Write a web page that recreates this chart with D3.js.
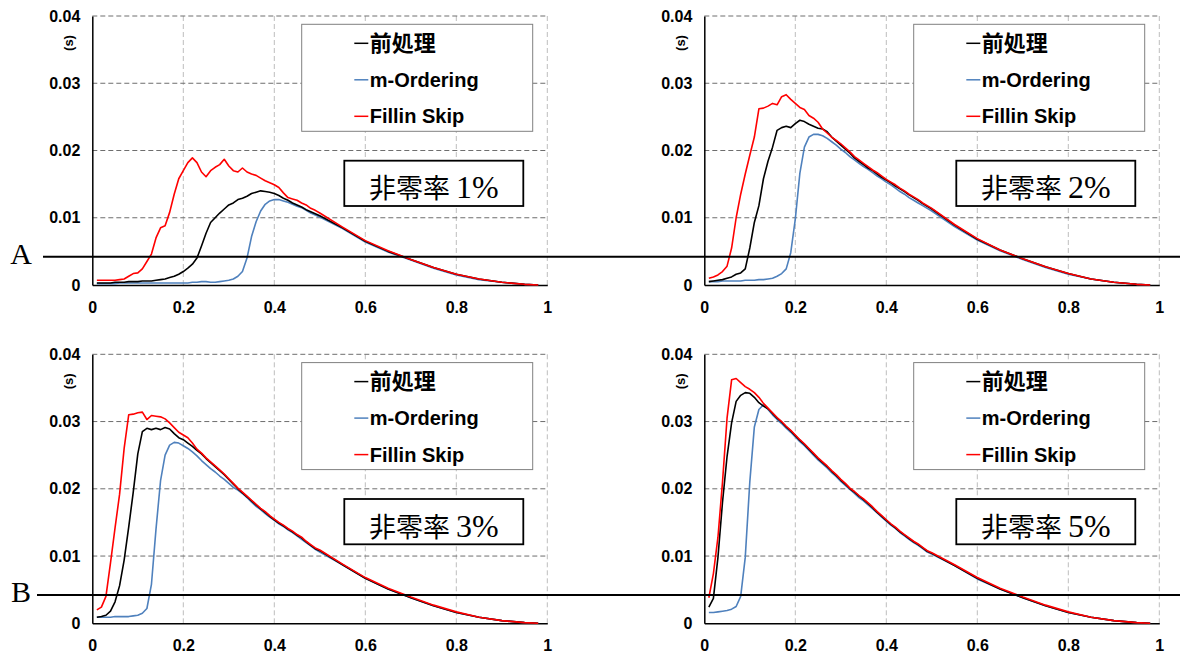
<!DOCTYPE html>
<html>
<head>
<meta charset="utf-8">
<script src="https://cdn.jsdelivr.net/npm/d3@7"></script>
<style>
  body { margin: 0; background: #fff; }
  .tick text { font-family: "Liberation Sans", Arial, sans-serif; font-weight: bold; font-size: 16px; fill: #000; }
</style>
</head>
<body>
<div id="chart"></div>
<script>
// x positions (fraction) shared by every series
const xs = [0.01,0.02,0.03,0.04,0.05,0.06,0.07,0.08,0.09,0.10,
  0.11,0.12,0.13,0.14,0.15,0.16,0.17,0.18,0.19,0.20,
  0.21,0.22,0.23,0.24,0.25,0.26,0.27,0.28,0.29,0.30,
  0.31,0.32,0.33,0.34,0.35,0.36,0.37,0.38,0.39,0.40,
  0.41,0.42,0.43,0.44,0.45,0.46,0.47,0.48,0.49,0.50,
  0.55,0.60,0.65,0.70,0.75,0.80,0.85,0.90,0.95,0.98];

const seriesNames = ["前処理", "m-Ordering", "Fillin Skip"];
const panelLabels = ["非零率 1%", "非零率 2%", "非零率 3%", "非零率 5%"];
const xTickValues = [0, 0.2, 0.4, 0.6, 0.8, 1];
const xTickLabels = ["0", "0.2", "0.4", "0.6", "0.8", "1"];
const yTickValues = [0, 0.01, 0.02, 0.03, 0.04];
const yTickLabels = ["0", "0.01", "0.02", "0.03", "0.04"];
const refLevel = 0.0042;
const refLetters = ["A", "B"];

// 1%
const pre1 = [0.0003,0.0003,0.0003,0.0003,0.0004,0.0004,0.0004,0.0005,0.0005,0.0005,
  0.0006,0.0006,0.0006,0.0007,0.0008,0.0009,0.0011,0.0013,0.0016,0.0020,
  0.0025,0.0031,0.0040,0.0058,0.0077,0.0093,0.0100,0.0107,0.0113,0.0119,
  0.0122,0.0127,0.0129,0.0132,0.0136,0.0138,0.0140,0.0139,0.0138,0.0136,
  0.0133,0.0129,0.0126,0.0122,0.0119,0.0116,0.0112,0.0109,0.0106,0.0103,
  0.0085,0.0065,0.0050,0.0038,0.0026,0.0016,0.0009,0.0004,0.0001,0.0000];
const mord1 = [0.0002,0.0002,0.0002,0.0002,0.0002,0.0003,0.0003,0.0003,0.0003,0.0003,
  0.0003,0.0003,0.0003,0.0003,0.0003,0.0003,0.0003,0.0003,0.0003,0.0003,
  0.0003,0.0004,0.0004,0.0005,0.0005,0.0004,0.0004,0.0005,0.0006,0.0007,
  0.0009,0.0013,0.0020,0.0040,0.0072,0.0094,0.0110,0.0120,0.0125,0.0127,
  0.0127,0.0125,0.0123,0.0120,0.0117,0.0115,0.0111,0.0107,0.0104,0.0101,
  0.0084,0.0064,0.0049,0.0037,0.0025,0.0015,0.0008,0.0004,0.0001,0.0000];
const skip1 = [0.0007,0.0007,0.0007,0.0007,0.0007,0.0008,0.0009,0.0013,0.0017,0.0018,
  0.0024,0.0035,0.0046,0.0070,0.0085,0.0088,0.0108,0.0135,0.0158,0.0170,
  0.0182,0.0189,0.0182,0.0168,0.0161,0.0170,0.0175,0.0179,0.0187,0.0177,
  0.0170,0.0168,0.0174,0.0168,0.0165,0.0163,0.0159,0.0155,0.0152,0.0149,
  0.0145,0.0137,0.0130,0.0128,0.0126,0.0122,0.0119,0.0114,0.0111,0.0107,
  0.0086,0.0066,0.0051,0.0038,0.0026,0.0016,0.0009,0.0004,0.0001,0.0000];

// 2%
const pre2 = [0.0005,0.0006,0.0007,0.0008,0.0010,0.0012,0.0016,0.0018,0.0024,0.0055,
  0.0093,0.0118,0.0158,0.0184,0.0205,0.0230,0.0234,0.0236,0.0234,0.0240,
  0.0245,0.0243,0.0239,0.0236,0.0233,0.0232,0.0228,0.0220,0.0214,0.0208,
  0.0202,0.0196,0.0189,0.0184,0.0179,0.0174,0.0170,0.0165,0.0160,0.0156,
  0.0152,0.0147,0.0143,0.0139,0.0134,0.0130,0.0126,0.0121,0.0117,0.0113,
  0.0089,0.0068,0.0052,0.0039,0.0027,0.0017,0.0009,0.0004,0.0001,0.0000];
const mord2 = [0.0005,0.0005,0.0005,0.0006,0.0006,0.0006,0.0006,0.0006,0.0007,0.0007,
  0.0007,0.0008,0.0008,0.0009,0.0010,0.0013,0.0017,0.0024,0.0048,0.0098,
  0.0166,0.0205,0.0220,0.0224,0.0224,0.0222,0.0218,0.0213,0.0208,0.0202,
  0.0197,0.0191,0.0186,0.0181,0.0176,0.0172,0.0167,0.0162,0.0158,0.0153,
  0.0149,0.0144,0.0139,0.0135,0.0130,0.0126,0.0122,0.0118,0.0114,0.0110,
  0.0087,0.0067,0.0051,0.0038,0.0026,0.0016,0.0009,0.0004,0.0001,0.0000];
const skip2 = [0.0010,0.0012,0.0015,0.0020,0.0028,0.0055,0.0100,0.0135,0.0165,0.0193,
  0.0220,0.0262,0.0263,0.0266,0.0270,0.0268,0.0280,0.0283,0.0276,0.0270,
  0.0264,0.0261,0.0252,0.0248,0.0242,0.0232,0.0226,0.0220,0.0215,0.0210,
  0.0204,0.0198,0.0191,0.0186,0.0181,0.0176,0.0171,0.0167,0.0162,0.0157,
  0.0153,0.0149,0.0144,0.0140,0.0135,0.0131,0.0127,0.0122,0.0118,0.0114,
  0.0090,0.0069,0.0052,0.0039,0.0027,0.0017,0.0009,0.0004,0.0001,0.0000];

// 3%
const pre3 = [0.0009,0.0010,0.0012,0.0018,0.0032,0.0056,0.0094,0.0143,0.0195,0.0252,
  0.0285,0.0290,0.0288,0.0290,0.0288,0.0291,0.0289,0.0282,0.0276,0.0273,
  0.0268,0.0263,0.0257,0.0252,0.0245,0.0239,0.0233,0.0227,0.0221,0.0214,
  0.0207,0.0200,0.0194,0.0188,0.0182,0.0176,0.0170,0.0165,0.0159,0.0154,
  0.0149,0.0145,0.0140,0.0136,0.0131,0.0127,0.0121,0.0116,0.0111,0.0108,
  0.0087,0.0067,0.0051,0.0038,0.0026,0.0016,0.0009,0.0004,0.0001,0.0000];
const mord3 = [0.0009,0.0009,0.0009,0.0009,0.0010,0.0010,0.0010,0.0010,0.0011,0.0012,
  0.0015,0.0022,0.0058,0.0140,0.0212,0.0250,0.0265,0.0269,0.0268,0.0264,
  0.0260,0.0255,0.0249,0.0242,0.0236,0.0230,0.0225,0.0219,0.0214,0.0208,
  0.0202,0.0198,0.0193,0.0187,0.0180,0.0174,0.0169,0.0163,0.0158,0.0153,
  0.0148,0.0144,0.0139,0.0135,0.0130,0.0125,0.0120,0.0115,0.0110,0.0106,
  0.0087,0.0067,0.0051,0.0038,0.0026,0.0016,0.0009,0.0004,0.0001,0.0000];
const skip3 = [0.0020,0.0024,0.0040,0.0090,0.0142,0.0192,0.0260,0.0310,0.0311,0.0313,
  0.0314,0.0303,0.0309,0.0308,0.0307,0.0304,0.0298,0.0291,0.0284,0.0280,
  0.0276,0.0268,0.0259,0.0253,0.0246,0.0240,0.0234,0.0228,0.0222,0.0215,
  0.0208,0.0201,0.0195,0.0189,0.0183,0.0177,0.0171,0.0166,0.0160,0.0155,
  0.0150,0.0146,0.0141,0.0137,0.0132,0.0128,0.0122,0.0117,0.0112,0.0109,
  0.0088,0.0068,0.0052,0.0039,0.0027,0.0017,0.0009,0.0004,0.0001,0.0000];

// 5%
const pre4 = [0.0024,0.0037,0.0098,0.0180,0.0248,0.0298,0.0330,0.0339,0.0343,0.0342,
  0.0336,0.0328,0.0323,0.0319,0.0312,0.0305,0.0299,0.0292,0.0286,0.0279,
  0.0272,0.0266,0.0259,0.0252,0.0245,0.0239,0.0233,0.0226,0.0220,0.0213,
  0.0207,0.0200,0.0195,0.0189,0.0184,0.0178,0.0172,0.0165,0.0159,0.0153,
  0.0147,0.0142,0.0136,0.0131,0.0126,0.0121,0.0117,0.0112,0.0107,0.0104,
  0.0086,0.0067,0.0051,0.0038,0.0026,0.0016,0.0009,0.0004,0.0001,0.0000];
const mord4 = [0.0016,0.0016,0.0017,0.0018,0.0019,0.0021,0.0025,0.0040,0.0098,0.0210,
  0.0292,0.0318,0.0325,0.0318,0.0310,0.0303,0.0297,0.0290,0.0284,0.0277,
  0.0270,0.0264,0.0257,0.0250,0.0243,0.0237,0.0231,0.0224,0.0218,0.0211,
  0.0205,0.0199,0.0193,0.0187,0.0182,0.0176,0.0170,0.0164,0.0158,0.0152,
  0.0146,0.0141,0.0135,0.0130,0.0125,0.0120,0.0116,0.0111,0.0106,0.0103,
  0.0086,0.0066,0.0051,0.0038,0.0026,0.0016,0.0009,0.0004,0.0001,0.0000];
const skip4 = [0.0038,0.0074,0.0128,0.0210,0.0305,0.0362,0.0364,0.0358,0.0352,0.0348,
  0.0343,0.0336,0.0327,0.0320,0.0313,0.0306,0.0300,0.0293,0.0287,0.0280,
  0.0273,0.0267,0.0260,0.0253,0.0246,0.0240,0.0234,0.0227,0.0221,0.0214,
  0.0208,0.0201,0.0196,0.0190,0.0185,0.0179,0.0173,0.0166,0.0160,0.0154,
  0.0148,0.0143,0.0137,0.0132,0.0127,0.0122,0.0118,0.0113,0.0108,0.0105,
  0.0087,0.0068,0.0052,0.0039,0.0027,0.0017,0.0009,0.0004,0.0001,0.0000];

const panelSeries = [
  [pre1, mord1, skip1],
  [pre2, mord2, skip2],
  [pre3, mord3, skip3],
  [pre4, mord4, skip4]
];
const colors = ["#000000", "#4f81bd", "#ff0000"];

const width = 1180;
const height = 657;
const plotW = 455;
const plotH = 269;
const lefts = [92.3, 704.3];
const tops = [16, 354.3];

const svg = d3.select("#chart").append("svg")
  .attr("width", width)
  .attr("height", height);

const panels = panelLabels.map((label, i) => {
  const left = lefts[i % 2];
  const top = tops[Math.floor(i / 2)];
  const x = d3.scaleLinear().domain([0, 1]).range([left, left + plotW]);
  const y = d3.scaleLinear().domain([0, 0.04]).range([top + plotH, top]);
  return { label, left, top, x, y, series: panelSeries[i] };
});

panels.forEach(p => {
  const g = svg.append("g");

  // gridlines
  g.selectAll(".vgrid")
    .data(xTickValues.filter(d => d > 0))
    .enter().append("line")
    .attr("x1", d => p.x(d)).attr("x2", d => p.x(d))
    .attr("y1", p.y(0)).attr("y2", p.y(0.04))
    .attr("stroke", "#bdbdbd")
    .attr("stroke-width", 1)
    .attr("stroke-dasharray", "5,3");

  g.selectAll(".hgrid")
    .data(yTickValues.filter(d => d > 0))
    .enter().append("line")
    .attr("x1", p.x(0)).attr("x2", p.x(1))
    .attr("y1", d => p.y(d)).attr("y2", d => p.y(d))
    .attr("stroke", "#6e6e6e")
    .attr("stroke-width", 1)
    .attr("stroke-dasharray", "5,3");

  // axes
  const yAxis = g.append("g")
    .attr("transform", `translate(${p.left},0)`)
    .call(d3.axisLeft(p.y).tickValues(yTickValues)
      .tickFormat((d, i) => yTickLabels[i])
      .tickSize(0).tickPadding(12));
  yAxis.select(".domain").attr("stroke", "#000").attr("stroke-width", 1.5);

  const xAxis = g.append("g")
    .attr("transform", `translate(0,${p.y(0)})`)
    .call(d3.axisBottom(p.x).tickValues(xTickValues)
      .tickFormat((d, i) => xTickLabels[i])
      .tickSize(0).tickPadding(16.5));
  xAxis.select(".domain").attr("stroke", "#000").attr("stroke-width", 1.5);

  // y axis title
  g.append("text")
    .attr("transform", `translate(${p.left - 24},${p.top + 27}) rotate(-90)`)
    .attr("text-anchor", "middle")
    .attr("dominant-baseline", "central")
    .style("font-family", "'Liberation Sans', Arial, sans-serif")
    .style("font-weight", "bold")
    .style("font-size", "13px")
    .text("(s)");

  // series lines: blue, black, red on top
  const line = d3.line()
    .x((d, i) => p.x(xs[i]))
    .y(d => p.y(d));
  [1, 0, 2].forEach(k => {
    g.append("path")
      .datum(p.series[k])
      .attr("d", line)
      .attr("fill", "none")
      .attr("stroke", colors[k])
      .attr("stroke-width", 1.6)
      .attr("stroke-linejoin", "round");
  });

  // legend
  const lg = g.append("g").attr("transform", `translate(${p.left + 209.4},${p.top + 8.3})`);
  lg.append("rect")
    .attr("width", 231).attr("height", 107)
    .attr("fill", "#fff")
    .attr("stroke", "#808080")
    .attr("stroke-width", 1);
  seriesNames.forEach((name, k) => {
    const cy = 19 + k * 36.5;
    lg.append("line")
      .attr("x1", 52.6).attr("x2", 66.6)
      .attr("y1", cy).attr("y2", cy)
      .attr("stroke", colors[k])
      .attr("stroke-width", 1.5);
    lg.append("text")
      .attr("x", 68)
      .attr("y", cy)
      .attr("dominant-baseline", "central")
      .style("font-family", "'Liberation Sans', Arial, 'Noto Sans CJK JP', sans-serif")
      .style("font-weight", "bold")
      .style("font-size", k === 0 ? "22px" : "20px")
      .text(name);
  });

  // rate label box
  const bx = g.append("g").attr("transform", `translate(${p.left + 252},${p.top + 144.7})`);
  bx.append("rect")
    .attr("width", 179).attr("height", 45.3)
    .attr("fill", "#fff")
    .attr("stroke", "#000")
    .attr("stroke-width", 1.8);
  const parts = p.label.split(" ");
  const t = bx.append("text")
    .attr("x", 89.5)
    .attr("y", 37.6)
    .attr("text-anchor", "middle");
  t.append("tspan")
    .style("font-family", "'Noto Sans CJK JP', sans-serif")
    .style("font-size", "27px")
    .text(parts[0] + " ");
  t.append("tspan")
    .style("font-family", "'Liberation Serif', 'DejaVu Serif', serif")
    .style("font-size", "32px")
    .text(parts[1]);
});

// reference lines A and B across each row
[0, 1].forEach(r => {
  const p = panels[r * 2];
  const yy = p.y(refLevel);
  const x0 = r === 0 ? 43 : 37;
  svg.append("line")
    .attr("x1", x0).attr("x2", width)
    .attr("y1", yy).attr("y2", yy)
    .attr("stroke", "#000")
    .attr("stroke-width", 2);
  svg.append("text")
    .attr("x", 21)
    .attr("y", yy + 7)
    .attr("text-anchor", "middle")
    .style("font-family", "'Liberation Serif', 'DejaVu Serif', serif")
    .style("font-size", "30px")
    .text(refLetters[r]);
});
</script>
</body>
</html>
